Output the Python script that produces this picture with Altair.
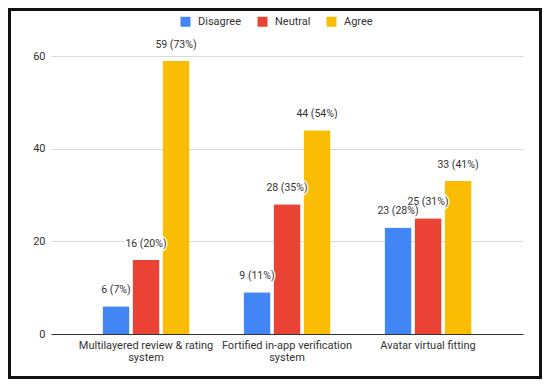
import altair as alt
import pandas as pd

categories = [
    "Multilayered review & rating system",
    "Fortified in-app verification system",
    "Avatar virtual fitting",
]
series = ["Disagree", "Neutral", "Agree"]
colors = ["#4285F4", "#EA4335", "#FBBC04"]

disagree = [6, 9, 23]
neutral = [16, 28, 25]
agree = [59, 44, 33]
pct_disagree = [7, 11, 28]
pct_neutral = [20, 35, 31]
pct_agree = [73, 54, 41]

y_ticks = [0, 20, 40, 60]

wrapped = {
    "Multilayered review & rating system": ["Multilayered review & rating", "system"],
    "Fortified in-app verification system": ["Fortified in-app verification", "system"],
}

rows = []
for s, vals, pcts in [("Disagree", disagree, pct_disagree),
                      ("Neutral", neutral, pct_neutral),
                      ("Agree", agree, pct_agree)]:
    for c, v, p in zip(categories, vals, pcts):
        rows.append({"category": c, "series": s, "value": v, "label": f"{v} ({p}%)"})
df = pd.DataFrame(rows)

label_expr = ""
for k, v in wrapped.items():
    label_expr += f"datum.value == '{k}' ? ['{v[0]}', '{v[1]}'] : "
label_expr += "datum.value"

W, H = 472, 278
PL, PT, PR, PB = 43, 48, 19, 45

x_enc = alt.X(
    "category:N", sort=categories,
    scale=alt.Scale(paddingInner=0.383, paddingOuter=0.365),
    axis=alt.Axis(title=None, labelAngle=0, labelExpr=label_expr, labelFontSize=11,
                  labelColor="#333333", labelPadding=5, ticks=False,
                  domainColor="#333333", labelLineHeight=12),
)
xo_enc = alt.XOffset("series:N", sort=series, scale=alt.Scale(paddingInner=0.1, paddingOuter=0))
y_enc = alt.Y(
    "value:Q", scale=alt.Scale(domain=[0, 60]),
    axis=alt.Axis(title=None, values=y_ticks, grid=True, gridColor="#d9d9d9", domain=False,
                  ticks=False, labelPadding=6, labelFontSize=11, labelColor="#333333"),
)

base = alt.Chart(df).encode(x=x_enc, xOffset=xo_enc, y=y_enc)

bars = base.mark_bar(cornerRadiusTopLeft=1, cornerRadiusTopRight=1).encode(
    color=alt.Color(
        "series:N", sort=series,
        scale=alt.Scale(domain=series, range=colors),
        legend=alt.Legend(title=None, orient="none", legendX=129, legendY=-40,
                          direction="horizontal", symbolType="square", symbolSize=100,
                          symbolStrokeWidth=0, labelFontSize=11, labelColor="#333333",
                          columnPadding=15, labelOffset=7),
    )
)

halo = base.mark_text(baseline="middle", dy=-16, fontSize=10.5, stroke="white",
                      strokeWidth=3, fill="white").encode(text="label:N")
labels = base.mark_text(baseline="middle", dy=-16, fontSize=10.5, color="#333333").encode(text="label:N")

frame = alt.Chart(alt.Data(values=[{"a": 1}])).mark_rect(
    fill="white", fillOpacity=0, stroke="#111111", strokeWidth=3
).encode(
    x=alt.value(-PL + 1.5), x2=alt.value(W + PR - 1.5),
    y=alt.value(-PT + 1.5), y2=alt.value(H + PB - 1.5),
)

chart = alt.layer(bars, halo, labels, frame).properties(
    width=W, height=H,
    padding={"left": PL, "top": PT, "right": PR, "bottom": PB},
    autosize="none",
).configure(font="Roboto").configure_view(strokeWidth=0)

chart.save("out.html", embed_options={"renderer": "svg", "actions": False})
